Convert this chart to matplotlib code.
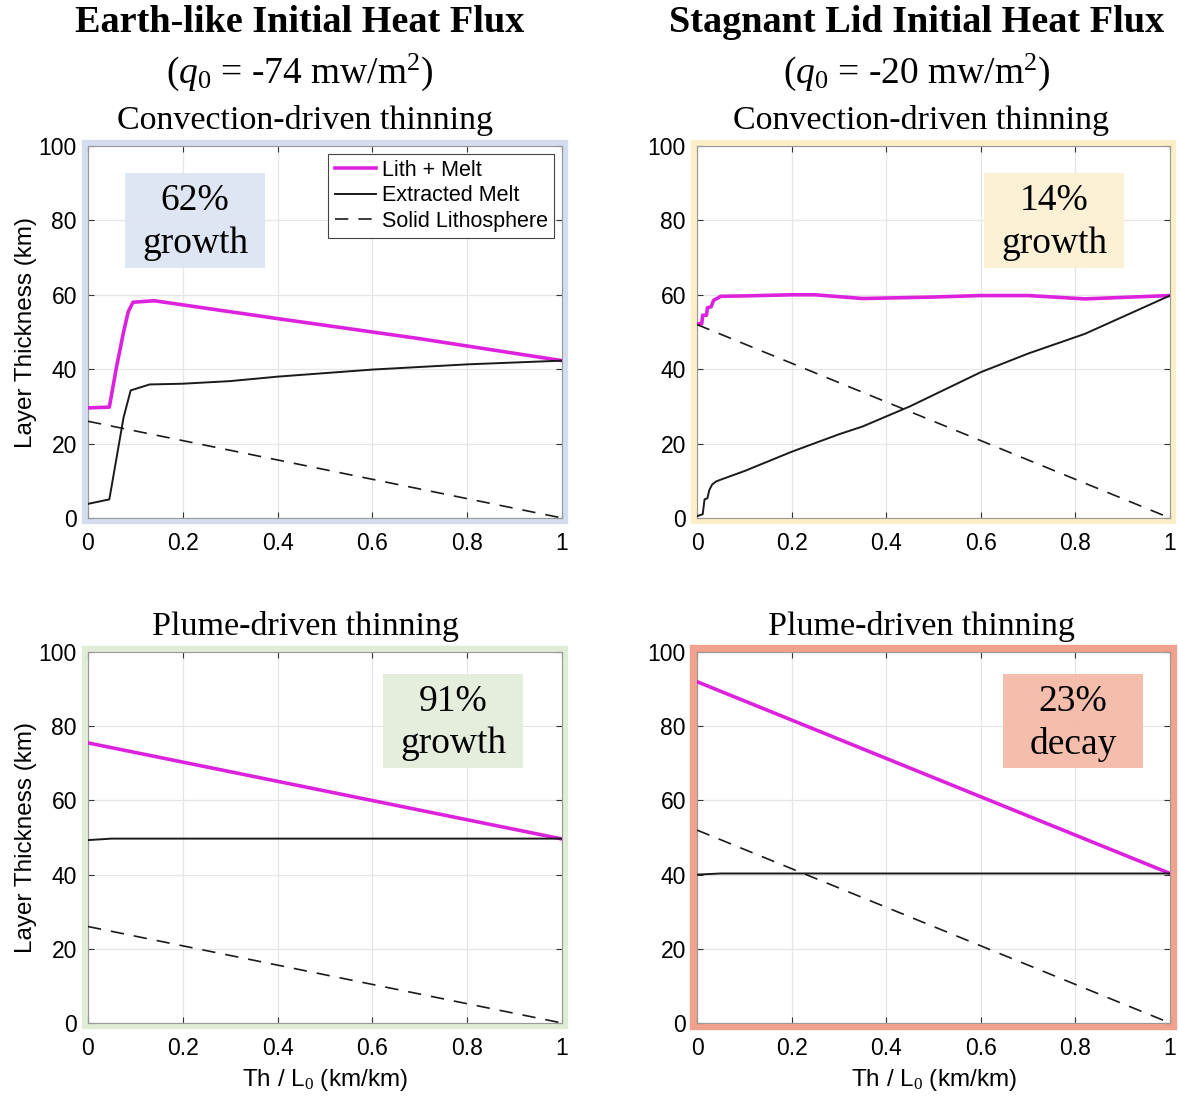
"""
Layer thickness vs. thinning fraction for four heat-flux / thinning cases.

Writes ``out.png``.
"""

import matplotlib

matplotlib.use("Agg")
import matplotlib.pyplot as plt
from matplotlib.patches import Rectangle

plt.rcParams["font.family"] = ["Liberation Sans", "DejaVu Sans"]
plt.rcParams["mathtext.fontset"] = "custom"
plt.rcParams["mathtext.rm"] = "Liberation Serif"
plt.rcParams["mathtext.it"] = "Liberation Serif:italic"

SERIF = "Liberation Serif"
MAGENTA = "#dd22dd"

# --- data ------------------------------------------------------------------
# Earth-like, convection-driven
conv_earth_lm_x = [0, 0.045, 0.06, 0.075, 0.085, 0.095, 0.14, 0.4, 0.7, 1.0]
conv_earth_lm_y = [29.6, 29.8, 40.5, 50.0, 55.5, 58.0, 58.4, 53.6, 48.2, 42.3]
conv_earth_em_x = [0, 0.045, 0.06, 0.075, 0.09, 0.13, 0.2, 0.3, 0.4, 0.6, 0.8, 1.0]
conv_earth_em_y = [3.8, 5.0, 16.0, 27.0, 34.3, 35.9, 36.1, 36.8, 38.0, 39.9, 41.3, 42.3]
conv_earth_sl = [26.0, 0.0]

# Stagnant lid, convection-driven
conv_stag_lm_x = [0, 0.01, 0.012, 0.02, 0.022, 0.03, 0.035, 0.045, 0.05, 0.1,
                  0.2, 0.25, 0.35, 0.5, 0.6, 0.7, 0.82, 1.0]
conv_stag_lm_y = [52.2, 52.2, 54.5, 54.5, 56.5, 56.8, 58.5, 59.2, 59.6, 59.7,
                  60.0, 60.0, 59.0, 59.4, 59.8, 59.8, 58.9, 59.8]
conv_stag_em_x = [0, 0.012, 0.016, 0.022, 0.026, 0.032, 0.04, 0.05, 0.1, 0.2,
                  0.3, 0.35, 0.45, 0.6, 0.7, 0.82, 1.0]
conv_stag_em_y = [0.5, 1.0, 5.0, 5.3, 7.5, 9.0, 9.8, 10.3, 12.6, 17.8,
                  22.5, 24.6, 30.0, 39.2, 44.2, 49.5, 59.8]
conv_stag_sl = [52.0, 0.0]

# Earth-like, plume-driven
plume_earth_lm = [75.5, 49.6]
plume_earth_em_x = [0, 0.05, 1.0]
plume_earth_em_y = [49.3, 49.7, 49.7]
plume_earth_sl = [26.0, 0.0]

# Stagnant lid, plume-driven
plume_stag_lm = [92.0, 40.3]
plume_stag_em_x = [0, 0.05, 1.0]
plume_stag_em_y = [40.0, 40.3, 40.3]
plume_stag_sl = [52.0, 0.0]

ENDS = [0, 1]

panels = [
    dict(lm=(conv_earth_lm_x, conv_earth_lm_y), em=(conv_earth_em_x, conv_earth_em_y),
         sl=conv_earth_sl, note="62%\ngrowth", box="#dde4f3", frame="#d4ddef",
         note_xy=(0.226, 80.0), title="Convection-driven thinning"),
    dict(lm=(conv_stag_lm_x, conv_stag_lm_y), em=(conv_stag_em_x, conv_stag_em_y),
         sl=conv_stag_sl, note="14%\ngrowth", box="#fdf0d2", frame="#fcefc8",
         note_xy=(0.755, 80.0), title="Convection-driven thinning"),
    dict(lm=(ENDS, plume_earth_lm), em=(plume_earth_em_x, plume_earth_em_y),
         sl=plume_earth_sl, note="91%\ngrowth", box="#e3eddb", frame="#e0ecd5",
         note_xy=(0.77, 81.4), title="Plume-driven thinning"),
    dict(lm=(ENDS, plume_stag_lm), em=(plume_stag_em_x, plume_stag_em_y),
         sl=plume_stag_sl, note="23%\ndecay", box="#f5b8a5", frame="#f0a28c",
         note_xy=(0.795, 81.4), title="Plume-driven thinning"),
]

fig = plt.figure(figsize=(11.79, 10.97), dpi=100)
W, H = 1179, 1097
# axes boxes in pixels: left, top, right, bottom
boxes = [(88, 146, 562, 518), (697, 146, 1170, 518),
         (88, 652, 562, 1023), (697, 652, 1170, 1023)]
title_x = [0.458, 0.474, 0.458, 0.474]

for i, (p, (l, t, r, b)) in enumerate(zip(panels, boxes)):
    ax = fig.add_axes([l / W, 1 - b / H, (r - l) / W, (b - t) / H])
    ax.plot(*p["lm"], color=MAGENTA, lw=2.6, label="Lith + Melt", zorder=4)
    ax.plot(*p["em"], color="#1a1a1a", lw=1.4, label="Extracted Melt", zorder=4)
    ax.plot(ENDS, p["sl"], color="#1a1a1a", lw=1.2, ls=(0, (8, 6)),
            label="Solid Lithosphere", zorder=4)

    ax.set_xlim(0, 1)
    ax.set_ylim(0, 100)
    ax.set_xticks([0, 0.2, 0.4, 0.6, 0.8, 1])
    ax.set_xticklabels(["0", "0.2", "0.4", "0.6", "0.8", "1"])
    ax.set_yticks([0, 20, 40, 60, 80, 100])
    ax.grid(True, color="#e6e6e6", lw=0.9)
    ax.tick_params(direction="in", labelsize=16.5, color="#333333", length=4,
                   top=True, right=True)
    ax.tick_params(axis="x", pad=10)
    ax.tick_params(axis="y", pad=8)
    for s in ax.spines.values():
        s.set_color("#999999")
        s.set_linewidth(0.8)

    if i % 2 == 0:
        ax.set_ylabel("Layer Thickness (km)", fontsize=17.5, labelpad=1)
    if i >= 2:
        ax.set_xlabel("Th / L$_0$ (km/km)", fontsize=17.5, labelpad=5)

    ax.set_title(p["title"], fontsize=24.5, family=SERIF, pad=12,
                 x=title_x[i])

    # shaded annotation box
    cx, cy = p["note_xy"]
    ax.add_patch(Rectangle((cx - 0.148, cy - 12.8), 0.296, 25.6,
                           facecolor=p["box"], edgecolor="none", alpha=0.92,
                           zorder=2))
    ax.text(cx, cy - 0.5, p["note"], ha="center", va="center", fontsize=27,
            family=SERIF, linespacing=1.3, zorder=5)

    # coloured frame round the panel
    lw = 6 if i == 3 else 4.5
    fig.add_artist(Rectangle((l / W - 0.0025, 1 - b / H - 0.0025),
                             (r - l) / W + 0.005, (b - t) / H + 0.005,
                             transform=fig.transFigure, fill=False,
                             edgecolor=p["frame"], lw=lw, zorder=0))

    if i == 0:
        leg = ax.legend(loc="upper right", fontsize=15.5, frameon=True,
                        fancybox=False, edgecolor="#444444", framealpha=1,
                        handlelength=1.9, handletextpad=0.3, borderpad=0.3,
                        labelspacing=0.2, borderaxespad=0.35)
        leg.get_frame().set_linewidth(0.8)
        leg.set_zorder(6)

# column headings
for cx, head, q in [(300 / W, "Earth-like Initial Heat Flux", "-74"),
                    (917 / W, "Stagnant Lid Initial Heat Flux", "-20")]:
    fig.text(cx, 1 - 22 / H, head, ha="center", va="center", fontsize=27.5,
             fontweight="bold", family=SERIF)
    fig.text(cx, 1 - 72 / H, r"($q_{\mathit{0}}$ = " + q + r" mw/m$^2$)",
             ha="center", va="center", fontsize=27, family=SERIF)

fig.savefig("out.png", dpi=100)
